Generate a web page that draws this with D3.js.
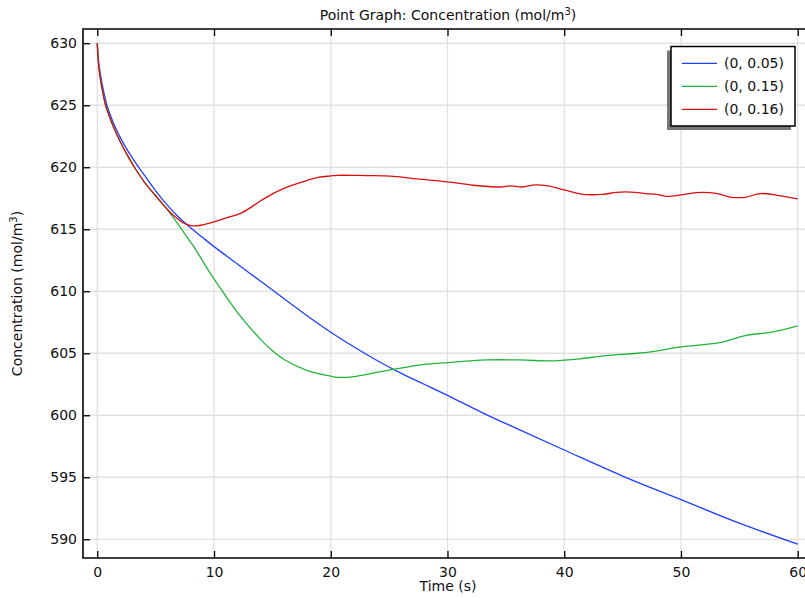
<!DOCTYPE html>
<html>
<head>
<meta charset="utf-8">
<script src="https://cdn.jsdelivr.net/npm/d3@7"></script>
<style>
  html, body { margin: 0; padding: 0; background: #fff; }
  svg { display: block; font-family: "DejaVu Sans", sans-serif; }
</style>
</head>
<body>
<svg id="chart" width="805" height="598"></svg>
<script>
// ---- data ----
const seriesNames = ["(0, 0.05)", "(0, 0.15)", "(0, 0.16)"];
const xTicks = [0, 10, 20, 30, 40, 50, 60];
const yTicks = [590, 595, 600, 605, 610, 615, 620, 625, 630];

const blueT = [0, 0.1, 0.25, 0.5, 0.82, 1.2, 1.6, 2, 2.5, 3, 3.47, 4, 5, 6, 7, 8.15, 9, 10, 12, 14, 16, 18, 20, 22, 24, 26, 28, 30, 33, 36, 40, 45, 50, 55, 60];
const blueV = [630, 628.6, 627.6, 626.3, 625, 624.0, 623.1, 622.35, 621.5, 620.75, 620.1, 619.4, 618.1, 616.95, 615.95, 615.0, 614.35, 613.6, 612.2, 610.8, 609.4, 608.0, 606.7, 605.5, 604.4, 603.4, 602.5, 601.6, 600.2, 598.9, 597.2, 595.1, 593.2, 591.3, 589.6];

const greenT = [0, 0.1, 0.25, 0.5, 0.71, 1, 1.5, 2, 2.5, 3.18, 4, 5, 5.9, 7, 8, 8.4, 9.5, 10, 12, 14, 15, 16, 18, 20, 20.5, 22, 24.2, 25.6, 28, 30, 33.3, 36.2, 38.8, 40, 41.3, 43.6, 46.3, 48.1, 50, 53.3, 55.6, 57.9, 60];
const greenV = [630, 628.4, 627.2, 625.9, 625, 624.2, 623.0, 622.0, 621.1, 620, 618.85, 617.7, 616.7, 615.3, 613.95, 613.4, 611.7, 611.0, 608.3, 606.1, 605.2, 604.5, 603.6, 603.15, 603.06, 603.12, 603.5, 603.74, 604.1, 604.25, 604.46, 604.46, 604.38, 604.44, 604.55, 604.81, 605.0, 605.22, 605.51, 605.86, 606.45, 606.72, 607.2];

const redT = [0, 0.1, 0.25, 0.5, 0.71, 1, 1.5, 2, 2.5, 3.18, 4, 5, 6, 7, 7.5, 8.15, 9, 10, 11, 12.4, 14, 15, 16, 17.3, 18, 19, 20, 20.5, 23, 25.4, 27.4, 30, 32.2, 34.5, 35.4, 36.4, 37.5, 38.6, 40, 41.6, 43.3, 44.5, 45.7, 47, 47.9, 48.7, 50, 51.3, 53, 54.3, 55.5, 56.8, 58.4, 60];
const redV = [630, 628.4, 627.2, 625.9, 625, 624.2, 623.0, 622.0, 621.1, 620, 618.85, 617.7, 616.6, 615.75, 615.45, 615.27, 615.35, 615.6, 615.9, 616.34, 617.3, 617.85, 618.3, 618.74, 618.95, 619.2, 619.3, 619.35, 619.33, 619.27, 619.06, 618.82, 618.55, 618.41, 618.5, 618.41, 618.58, 618.5, 618.17, 617.82, 617.82, 617.98, 618.0, 617.88, 617.82, 617.66, 617.77, 617.96, 617.9, 617.58, 617.58, 617.88, 617.72, 617.45];

const colors = ["#1f3fff", "#22b53a", "#d80f0f"];

// ---- layout ----
const svg = d3.select("#chart");
const L = 83, R = 813, T = 29, B = 558;
const x = d3.scaleLinear().domain([-1.225, 61.31]).range([L, R]);
const y = d3.scaleLinear().domain([588.49, 631.15]).range([B, T]);

// grid
const grid = svg.append("g");
grid.selectAll("line.gx").data(xTicks).join("line")
  .attr("x1", d => x(d)).attr("x2", d => x(d)).attr("y1", T).attr("y2", B)
  .attr("stroke", "#e1e1e1").attr("stroke-width", 1.3);
grid.selectAll("line.gy").data(yTicks).join("line")
  .attr("x1", L).attr("x2", R).attr("y1", d => y(d)).attr("y2", d => y(d))
  .attr("stroke", "#e1e1e1").attr("stroke-width", 1.3);

// curves
const series = [
  { t: blueT, v: blueV },
  { t: greenT, v: greenV },
  { t: redT, v: redV }
];
const line = d3.line().x(d => x(d[0])).y(d => y(d[1])).curve(d3.curveCatmullRom.alpha(0.5));
svg.append("clipPath").attr("id", "clip").append("rect")
  .attr("x", L).attr("y", T).attr("width", R - L).attr("height", B - T);
series.forEach((s, i) => {
  svg.append("path")
    .datum(s.t.map((t, k) => [t, s.v[k]]))
    .attr("d", line)
    .attr("fill", "none")
    .attr("stroke", colors[i])
    .attr("stroke-width", 1.3)
    .attr("clip-path", "url(#clip)");
});

// axes
const xAxisB = d3.axisBottom(x).tickValues(xTicks).tickSize(-7).tickPadding(9).tickFormat(d3.format("d"));
const gB = svg.append("g").attr("transform", `translate(0,${B})`).call(xAxisB);
gB.select(".domain").remove();
gB.selectAll(".tick line").attr("stroke", "#000").attr("stroke-width", 1.3);
gB.selectAll("text").attr("font-size", 14).attr("fill", "#111").attr("font-family", "DejaVu Sans");

const xAxisT = d3.axisTop(x).tickValues(xTicks).tickSize(-7).tickFormat("");
const gT = svg.append("g").attr("transform", `translate(0,${T})`).call(xAxisT);
gT.select(".domain").remove();
gT.selectAll(".tick line").attr("stroke", "#000").attr("stroke-width", 1.3);

const yAxis = d3.axisLeft(y).tickValues(yTicks).tickSize(-7).tickPadding(6).tickFormat(d3.format("d"));
const gL = svg.append("g").attr("transform", `translate(${L},0)`).call(yAxis);
gL.select(".domain").remove();
gL.selectAll(".tick line").attr("stroke", "#000").attr("stroke-width", 1.3);
gL.selectAll("text").attr("font-size", 14).attr("fill", "#111").attr("font-family", "DejaVu Sans");

// frame lines
svg.append("line").attr("x1", L).attr("x2", R).attr("y1", T).attr("y2", T).attr("stroke", "#000").attr("stroke-width", 1.5);
svg.append("line").attr("x1", L).attr("x2", R).attr("y1", B).attr("y2", B).attr("stroke", "#000").attr("stroke-width", 1.5);
svg.append("line").attr("x1", L).attr("x2", L).attr("y1", T - 0.75).attr("y2", B + 0.75).attr("stroke", "#333").attr("stroke-width", 2);

// title
const title = svg.append("text").attr("x", 448).attr("y", 20).attr("text-anchor", "middle")
  .attr("font-size", 14).attr("fill", "#111");
title.append("tspan").text("Point Graph: Concentration (mol/m");
title.append("tspan").attr("dy", -5).attr("font-size", 10).text("3");
title.append("tspan").attr("dy", 5).text(")");

// axis labels
svg.append("text").attr("x", 448).attr("y", 591).attr("text-anchor", "middle")
  .attr("font-size", 14).attr("fill", "#111").text("Time (s)");
const yl = svg.append("text").attr("transform", "translate(22,293.5) rotate(-90)")
  .attr("text-anchor", "middle").attr("font-size", 14).attr("fill", "#111");
yl.append("tspan").text("Concentration (mol/m");
yl.append("tspan").attr("dy", -5).attr("font-size", 10).text("3");
yl.append("tspan").attr("dy", 5).text(")");

// legend
const lg = svg.append("g");
lg.append("rect").attr("x", 667).attr("y", 50.5).attr("width", 124).attr("height", 79.5).attr("fill", "#777");
lg.append("rect").attr("x", 671).attr("y", 46.5).attr("width", 124).attr("height", 79.5)
  .attr("fill", "#fff").attr("stroke", "#000").attr("stroke-width", 1.5);
seriesNames.forEach((name, i) => {
  const yy = 63.3 + i * 23;
  lg.append("line").attr("x1", 682).attr("x2", 717).attr("y1", yy).attr("y2", yy)
    .attr("stroke", colors[i]).attr("stroke-width", 1.3);
  lg.append("text").attr("x", 724).attr("y", yy + 5).attr("font-size", 14).attr("fill", "#111").text(name);
});
</script>
</body>
</html>
